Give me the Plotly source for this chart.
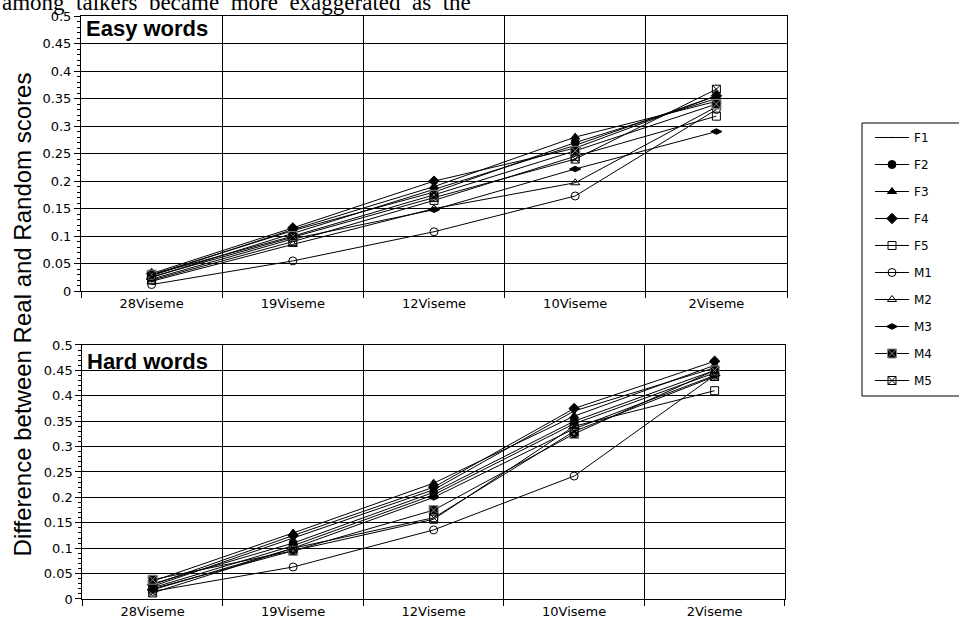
import plotly.graph_objects as go

categories = ["28Viseme", "19Viseme", "12Viseme", "10Viseme", "2Viseme"]
series_names = ["F1", "F2", "F3", "F4", "F5", "M1", "M2", "M3", "M4", "M5"]

easy_F1 = [0.025, 0.105, 0.185, 0.265, 0.355]
easy_F2 = [0.030, 0.110, 0.180, 0.270, 0.350]
easy_F3 = [0.028, 0.112, 0.190, 0.280, 0.345]
easy_F4 = [0.032, 0.115, 0.200, 0.260, 0.355]
easy_F5 = [0.020, 0.090, 0.165, 0.245, 0.318]
easy_M1 = [0.012, 0.055, 0.108, 0.173, 0.330]
easy_M2 = [0.018, 0.085, 0.150, 0.197, 0.335]
easy_M3 = [0.022, 0.095, 0.148, 0.222, 0.290]
easy_M4 = [0.030, 0.100, 0.175, 0.255, 0.340]
easy_M5 = [0.026, 0.098, 0.170, 0.240, 0.367]

hard_F1 = [0.025, 0.120, 0.215, 0.370, 0.455]
hard_F2 = [0.030, 0.110, 0.210, 0.350, 0.450]
hard_F3 = [0.035, 0.130, 0.228, 0.360, 0.460]
hard_F4 = [0.028, 0.125, 0.220, 0.375, 0.468]
hard_F5 = [0.020, 0.095, 0.157, 0.340, 0.410]
hard_M1 = [0.015, 0.063, 0.136, 0.242, 0.440]
hard_M2 = [0.022, 0.105, 0.205, 0.345, 0.445]
hard_M3 = [0.018, 0.100, 0.200, 0.335, 0.440]
hard_M4 = [0.038, 0.095, 0.175, 0.325, 0.450]
hard_M5 = [0.012, 0.100, 0.160, 0.330, 0.438]

easy = [easy_F1, easy_F2, easy_F3, easy_F4, easy_F5, easy_M1, easy_M2, easy_M3, easy_M4, easy_M5]
hard = [hard_F1, hard_F2, hard_F3, hard_F4, hard_F5, hard_M1, hard_M2, hard_M3, hard_M4, hard_M5]

y_tickvals = [0, 0.05, 0.1, 0.15, 0.2, 0.25, 0.3, 0.35, 0.4, 0.45, 0.5]
y_ticktext = ["0", "0.05", "0.1", "0.15", "0.2", "0.25", "0.3", "0.35", "0.4", "0.45", "0.5"]

symbols = ["circle", "circle", "triangle-up", "diamond", "square-open", "circle-open",
           "triangle-up-open", "diamond-wide", "square-x", "square-x-open"]

fig = go.Figure()
for i, name in enumerate(series_names):
    mk = dict(symbol=symbols[i], size=8, color="black", line=dict(color="black", width=1))
    if name == "F1":
        mk = dict(size=1, color="black", opacity=0)
    if symbols[i] == "square-x":
        mk = dict(symbol="square-x", size=9, color="black", line=dict(color="#888", width=1))
    fig.add_trace(go.Scatter(x=categories, y=easy[i], name=name, mode="lines+markers",
                             line=dict(color="black", width=1), marker=mk,
                             xaxis="x", yaxis="y", legendgroup=name, showlegend=True))
    fig.add_trace(go.Scatter(x=categories, y=hard[i], name=name, mode="lines+markers",
                             line=dict(color="black", width=1), marker=mk,
                             xaxis="x2", yaxis="y2", legendgroup=name, showlegend=False))

tickfont = dict(family="DejaVu Sans", size=13, color="black")
xcommon = dict(type="category", categoryorder="array", categoryarray=categories,
               range=[-0.5, 4.5], tickson="boundaries", ticks="outside", ticklen=6,
               tickcolor="black", showgrid=True, gridcolor="black", gridwidth=1,
               showline=True, linecolor="black", linewidth=1, mirror=True,
               tickfont=tickfont, zeroline=False, automargin=False)
ycommon = dict(range=[0, 0.5], tickvals=y_tickvals, ticktext=y_ticktext, ticks="outside",
               ticklen=6, tickcolor="black", showgrid=True, gridcolor="black", gridwidth=1,
               showline=True, linecolor="black", linewidth=1, mirror=True,
               tickfont=tickfont, zeroline=False, automargin=False,
               minor=dict(tickvals=[k / 100 for k in range(51)], ticks="outside", ticklen=3,
                          tickcolor="black", showgrid=False))

# paper-coordinate helpers for the legend frame (plot area: x 81..787 px, y 16..599 px)
def px_x(p):
    return (p - 81) / 706

def px_y(p):
    return (599 - p) / 583

fig.update_layout(
    width=959, height=626,
    margin=dict(l=81, r=172, t=16, b=27, autoexpand=False),
    paper_bgcolor="white", plot_bgcolor="white",
    xaxis=dict(domain=[0, 1], anchor="y", **xcommon),
    yaxis=dict(domain=[0.528, 1], anchor="x", **ycommon),
    xaxis2=dict(domain=[0.002, 0.997], anchor="y2", **xcommon),
    yaxis2=dict(domain=[0, 0.4357], anchor="x2", **ycommon),
    legend=dict(xref="container", yref="container", x=870 / 959, y=1 - 123 / 626,
                xanchor="left", yanchor="top", bgcolor="rgba(0,0,0,0)",
                borderwidth=0, font=dict(family="DejaVu Sans", size=12, color="black"),
                tracegroupgap=8, itemwidth=34),
    showlegend=True,
    shapes=[
        dict(type="rect", xref="paper", yref="paper", x0=px_x(862), x1=px_x(975),
             y0=px_y(396), y1=px_y(123), line=dict(color="black", width=1),
             fillcolor="white", layer="below"),
    ],
    annotations=[
        dict(text="Easy words", xref="paper", yref="paper", x=0.004, y=1.004,
             xanchor="left", yanchor="top", showarrow=False,
             font=dict(family="Liberation Sans", size=22, color="black", weight="bold")),
        dict(text="Hard words", x=0.006, y=0.433, xref="paper", yref="paper",
             xanchor="left", yanchor="top", showarrow=False,
             font=dict(family="Liberation Sans", size=22, color="black", weight="bold")),
        dict(text="Difference between Real and Random scores", xref="paper", yref="paper",
             x=-0.083, y=(599 - 314) / 583, textangle=-90, showarrow=False,
             xanchor="center", yanchor="middle",
             font=dict(family="Liberation Sans", size=24, color="black")),
        dict(text="among  talkers  became  more  exaggerated  as  the", xref="paper",
             yref="paper", x=-0.115, y=1 + (16 - 3) / 583, xanchor="left", yanchor="middle",
             showarrow=False,
             font=dict(family="Liberation Serif", size=23, color="black")),
    ],
)

fig.write_html("out.html", config={"displayModeBar": False},
               post_script="document.body.style.margin='0';document.body.style.overflow='hidden';")
